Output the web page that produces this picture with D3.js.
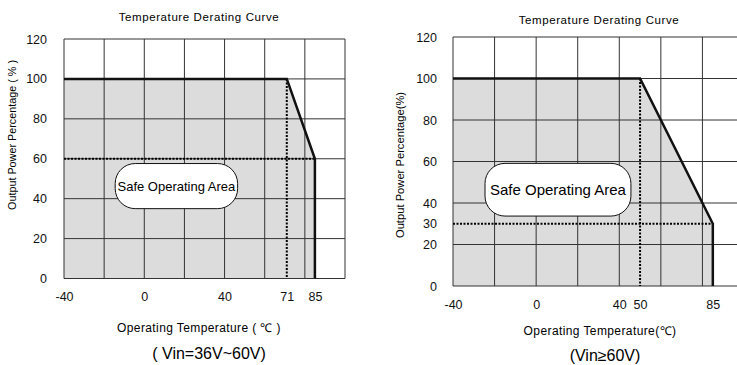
<!doctype html>
<html lang="en">
<head>
<meta charset="utf-8">
<title>Temperature Derating Curve</title>
<script src="https://d3js.org/d3.v7.min.js"></script>
<style>
  body { margin: 0; background: #fff; }
  svg { display: block; font-family: "Liberation Sans", Arial, sans-serif; }
  .tick text { font-size: 12.5px; fill: #111; }
</style>
</head>
<body>
<svg id="main" width="737" height="365"></svg>
<script>
// grid
const gridX = [-40, -20, 0, 20, 40, 60, 80, 100];
const gridY = [0, 20, 40, 60, 80, 100, 120];

// left chart (Vin=36V~60V)
const xTicksA = [-40, 0, 40, 71, 85];
const yTicksA = [0, 20, 40, 60, 80, 100, 120];
const curveA = [[-40, 100], [71, 100], [85, 60], [85, 0]];
const kneeA = [71, 60];

// right chart (Vin>=60V)
const xTicksB = [-40, 0, 40, 50, 85];
const yTicksB = [0, 20, 30, 40, 60, 80, 100, 120];
const curveB = [[-40, 100], [50, 100], [85, 30], [85, 0]];
const kneeB = [50, 30];

let svg = d3.select('#main');
let fmt = d => String(d); // plain hyphen for "-40"

function drawPanel(p) {
    let x = d3.scaleLinear().domain([-40, 100]).range(p.xr);
    let y = d3.scaleLinear().domain([0, 120]).range(p.yr);
    let g = svg.append('g');

    // shaded area under curve
    let area = d3.area().x(d => x(d[0])).y0(y(0)).y1(d => y(d[1]));
    g.append('path').datum(p.curve).attr('d', area).attr('fill', '#dcdcdc');

    // grid
    g.selectAll('.gx').data(gridX).join('line')
        .attr('x1', d => x(d)).attr('x2', d => x(d))
        .attr('y1', y(0)).attr('y2', y(120))
        .attr('stroke', '#333').attr('stroke-width', 1);
    g.selectAll('.gy').data(gridY).join('line')
        .attr('y1', d => y(d)).attr('y2', d => y(d))
        .attr('x1', x(-40)).attr('x2', x(100))
        .attr('stroke', '#333').attr('stroke-width', 1);

    // dotted guides
    g.append('line').attr('x1', x(-40)).attr('x2', x(85))
        .attr('y1', y(p.knee[1])).attr('y2', y(p.knee[1]))
        .attr('stroke', '#000').attr('stroke-width', 2).attr('stroke-dasharray', '2,1.5');
    g.append('line').attr('x1', x(p.knee[0])).attr('x2', x(p.knee[0]))
        .attr('y1', y(100)).attr('y2', y(0))
        .attr('stroke', '#000').attr('stroke-width', 2).attr('stroke-dasharray', '2,1.5');

    // derating curve
    g.append('path').datum(p.curve)
        .attr('d', d3.line().x(d => x(d[0])).y(d => y(d[1])))
        .attr('fill', 'none').attr('stroke', '#111').attr('stroke-width', 2.5);

    // safe operating area label
    let b = p.box;
    g.append('rect')
        .attr('x', x(b[0])).attr('y', y(b[3]))
        .attr('width', x(b[1]) - x(b[0])).attr('height', y(b[2]) - y(b[3]))
        .attr('rx', 20).attr('ry', 20)
        .attr('fill', '#fff').attr('stroke', '#111').attr('stroke-width', 1);
    g.append('text')
        .attr('x', (x(b[0]) + x(b[1])) / 2).attr('y', (y(b[2]) + y(b[3])) / 2)
        .attr('text-anchor', 'middle').attr('dominant-baseline', 'central')
        .attr('font-size', p.boxFont).text('Safe Operating Area');

    // axes
    g.append('g').attr('transform', 'translate(' + (x(-40) - 2) + ',0)')
        .call(d3.axisLeft(y).tickValues(p.yTicks).tickFormat(fmt).tickSize(0).tickPadding(p.yPad))
        .call(a => a.select('.domain').remove());
    g.append('g').attr('transform', 'translate(0,' + y(0) + ')')
        .call(d3.axisBottom(x).tickValues(p.xTicks).tickFormat(fmt).tickSize(0).tickPadding(p.xPad))
        .call(a => a.select('.domain').remove());

    // titles
    g.append('text').attr('x', p.titleX).attr('y', p.titleY).attr('text-anchor', 'middle')
        .attr('font-size', 11.5).attr('letter-spacing', 0.6).text('Temperature Derating Curve');
    g.append('text').attr('transform', 'translate(' + p.ylabX + ',' + p.ylabY + ') rotate(-90)')
        .attr('text-anchor', 'middle').attr('font-size', p.ylabFont).text(p.ylab);
    g.append('text').attr('x', p.xlabX).attr('y', p.xlabY).attr('text-anchor', 'middle')
        .attr('font-size', 12).attr('letter-spacing', 0.4).text(p.xlab);
    g.append('text').attr('x', p.subX).attr('y', p.subY).attr('text-anchor', 'middle')
        .attr('font-size', 16).text(p.sub);
}

drawPanel({
    xr: [64, 345], yr: [278.5, 39],
    curve: curveA, knee: kneeA, xTicks: xTicksA, yTicks: yTicksA,
    box: [-14.5, 46.5, 35, 57.6], boxFont: 13,
    yPad: 15, xPad: 14,
    titleX: 199, titleY: 21,
    ylab: 'Output Power Percentage ( % )', ylabX: 16, ylabY: 135, ylabFont: 10.8,
    xlab: 'Operating Temperature ( \u2103 )', xlabX: 199, xlabY: 332,
    sub: '( Vin=36V~60V)', subX: 209, subY: 359
});

drawPanel({
    xr: [453, 744], yr: [286, 37],
    curve: curveB, knee: kneeB, xTicks: xTicksB, yTicks: yTicksB,
    box: [-24.6, 45.6, 33.7, 59.1], boxFont: 15,
    yPad: 14, xPad: 14,
    titleX: 599, titleY: 24,
    ylab: 'Output Power Percentage(%)', ylabX: 404, ylabY: 165, ylabFont: 11.2,
    xlab: 'Operating Temperature(\u2103)', xlabX: 600, xlabY: 335,
    sub: '(Vin\u226560V)', subX: 605, subY: 361
});
</script>
</body>
</html>
